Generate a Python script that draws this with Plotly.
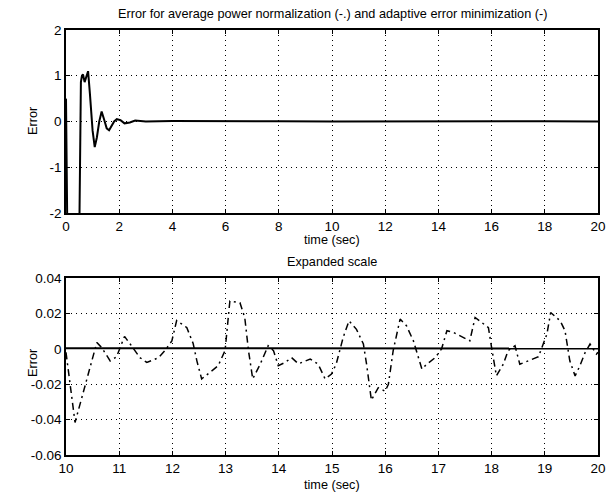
import plotly.graph_objects as go

# ---------------- data ----------------
# Top panel: adaptive error minimization transient (solid)
t_top = [0, 0.03, 0.06, 0.49, 0.52, 0.56, 0.60, 0.64, 0.70, 0.76, 0.83, 0.90, 1.0,
         1.08, 1.16, 1.25, 1.34, 1.43, 1.53, 1.62, 1.72, 1.81, 1.91, 2.05, 2.2, 2.4,
         2.6, 3.0, 4, 6, 8, 10, 12, 14, 16, 18, 20]
e_top = [0.5, -1.5, -3.0, -3.0, -1.5, 0.86, 1.0, 1.03, 0.86, 1.0, 1.1, 0.6, -0.2,
         -0.56, -0.35, 0.0, 0.22, 0.05, -0.15, -0.19, -0.1, 0.0, 0.05, 0.03, -0.04, -0.02,
         0.02, 0.0, 0.01, 0.0, 0.005, 0.0, 0.005, 0.0, 0.01, 0.005, 0.0]

# Bottom panel: average power normalization (dash-dot)
t_avg = [10.0, 10.17, 10.33, 10.58, 10.67, 10.83, 10.95, 11.1, 11.23, 11.39, 11.52,
         11.74, 11.86, 11.99, 12.08, 12.27, 12.39, 12.46, 12.55, 12.71, 12.86, 12.99,
         13.08, 13.27, 13.36, 13.43, 13.51, 13.65, 13.80, 13.90, 13.99, 14.12, 14.24,
         14.37, 14.59, 14.74, 14.87, 14.99, 15.08, 15.21, 15.32, 15.46, 15.59, 15.65,
         15.74, 15.87, 16.00, 16.06, 16.15, 16.28, 16.40, 16.53, 16.69, 16.78, 16.94,
         17.06, 17.16, 17.28, 17.47, 17.59, 17.69, 17.81, 17.94, 18.00, 18.09, 18.22,
         18.31, 18.44, 18.53, 18.69, 18.88, 19.04, 19.11, 19.29, 19.38, 19.47, 19.57,
         19.66, 19.76, 19.85, 19.97, 20.0]
e_avg = [-0.002, -0.0416, -0.024, 0.0036, 0.0007, -0.0068, -0.0045, 0.007, 0.0017,
         -0.005, -0.0077, -0.005, -0.001, 0.0045, 0.016, 0.012, 0.003, -0.0068, -0.017,
         -0.0134, -0.0096, -0.001, 0.027, 0.026, 0.0177, -0.001, -0.017, -0.0087, 0.0017,
         -0.001, -0.0096, -0.0077, -0.005, -0.0085, -0.0058, -0.0087, -0.017, -0.0143,
         -0.0085, 0.0064, 0.0158, 0.011, 0.0027, -0.0087, -0.029, -0.022, -0.024, -0.02,
         -0.001, 0.0168, 0.013, 0.0045, -0.0115, -0.0087, -0.005, 0.0, 0.0102, 0.0093,
         0.0064, 0.0045, 0.0177, 0.0149, 0.012, 0.0007, -0.0153, -0.0087, -0.001, 0.0017,
         -0.0087, -0.0068, -0.0045, 0.0083, 0.0205, 0.0158, 0.0102, -0.0068, -0.0153,
         -0.0096, -0.002, 0.0027, -0.003, -0.002]

# Bottom panel: adaptive error minimization (solid), essentially zero
t_adp = [10, 12, 14, 16, 18, 20]
e_adp = [0.0003, 0.0002, 0.0003, 0.0002, 0.0003, 0.0002]

title_top = "Error for average power normalization (-.) and adaptive error minimization (-)"
title_bot = "Expanded scale"
xlabel = "time (sec)"
ylabel = "Error"

top_xticks = [0, 2, 4, 6, 8, 10, 12, 14, 16, 18, 20]
top_yticks = [-2, -1, 0, 1, 2]
top_ylabels = ["-2", "-1", "0", "1", "2"]
bot_xticks = [10, 11, 12, 13, 14, 15, 16, 17, 18, 19, 20]
bot_yticks = [-0.06, -0.04, -0.02, 0, 0.02, 0.04]
bot_ylabels = ["-0.06", "-0.04", "-0.02", "0", "0.02", "0.04"]

# ---------------- figure ----------------
FONT = "Liberation Sans, Arial, sans-serif"
fig = go.Figure()
fig.add_trace(go.Scatter(x=t_top, y=e_top, mode="lines", xaxis="x", yaxis="y",
                         line=dict(color="black", width=2), showlegend=False))
fig.add_trace(go.Scatter(x=t_adp, y=e_adp, mode="lines", xaxis="x2", yaxis="y2",
                         line=dict(color="black", width=2), showlegend=False))
fig.add_trace(go.Scatter(x=t_avg, y=e_avg, mode="lines", xaxis="x2", yaxis="y2",
                         line=dict(color="black", width=1.5, dash="7px,4px,2px,4px"),
                         showlegend=False))

ax_common = dict(showline=True, linecolor="black", linewidth=1.5, mirror="ticks",
                 ticks="inside", ticklen=4, tickcolor="black", automargin=False,
                 showgrid=True, gridcolor="black", gridwidth=1, griddash="1px,4px",
                 zeroline=False, tickfont=dict(family=FONT, size=13.5, color="black"))

xd = [66 / 608, 598 / 608]
fig.update_layout(
    width=608, height=495, margin=dict(l=0, r=0, t=0, b=0),
    paper_bgcolor="white", plot_bgcolor="white",
    font=dict(family=FONT, color="black"),
    xaxis=dict(domain=xd, range=[0, 20], tickvals=top_xticks, anchor="y", **ax_common),
    yaxis=dict(domain=[(495 - 213) / 495, (495 - 30) / 495], range=[-2, 2],
               tickvals=top_yticks, ticktext=top_ylabels, anchor="x", **ax_common),
    xaxis2=dict(domain=xd, range=[10, 20], tickvals=bot_xticks, anchor="y2", **ax_common),
    yaxis2=dict(domain=[(495 - 455) / 495, (495 - 278) / 495], range=[-0.06, 0.04],
                tickvals=bot_yticks, ticktext=bot_ylabels, anchor="x2", **ax_common),
)

ann_font = dict(family=FONT, size=12.7, color="black")
anns = [
    dict(text=title_top, x=332, y=14),
    dict(text=title_bot, x=332, y=262),
    dict(text=xlabel, x=332, y=240),
    dict(text=xlabel, x=332, y=485),
]
for a in anns:
    fig.add_annotation(text=a["text"], xref="paper", yref="paper",
                       x=a["x"] / 608, y=1 - a["y"] / 495, showarrow=False,
                       xanchor="center", yanchor="middle", font=ann_font)
for yy in [121, 363]:
    fig.add_annotation(text=ylabel, xref="paper", yref="paper", x=33 / 608,
                       y=1 - yy / 495, showarrow=False, textangle=-90,
                       xanchor="center", yanchor="middle", font=ann_font)

fig.write_html("out.html", config={"displayModeBar": False},
               post_script="document.body.style.margin='0';document.body.style.overflow='hidden';")
